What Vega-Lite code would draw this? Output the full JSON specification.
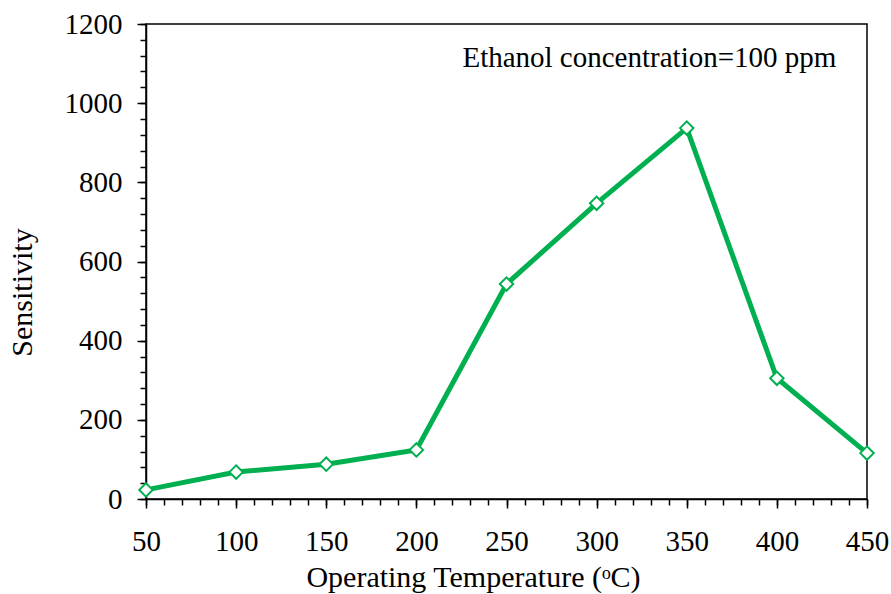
{
  "$schema": "https://vega.github.io/schema/vega-lite/v6.json",
  "width": 721,
  "height": 475,
  "autosize": "none",
  "padding": {"left": 146, "top": 24, "right": 24, "bottom": 95},
  "background": "white",
  "config": {
    "view": {"stroke": "black", "strokeWidth": 1.5},
    "font": "Liberation Serif",
    "axis": {
      "labelFont": "Liberation Serif",
      "labelFontSize": 29,
      "labelColor": "black",
      "labelFlush": false,
      "labelOverlap": false,
      "format": "d",
      "titleFont": "Liberation Serif",
      "titleFontSize": 30,
      "titleFontWeight": "normal",
      "titleColor": "black",
      "tickColor": "black",
      "domainColor": "black",
      "domainWidth": 1.5,
      "tickWidth": 1.5,
      "grid": false
    }
  },
  "datasets": {
    "sens": [
      {"temp": 50, "sensitivity": 23},
      {"temp": 100, "sensitivity": 68},
      {"temp": 150, "sensitivity": 88},
      {"temp": 200, "sensitivity": 124},
      {"temp": 250, "sensitivity": 543},
      {"temp": 300, "sensitivity": 747},
      {"temp": 350, "sensitivity": 937},
      {"temp": 400, "sensitivity": 305},
      {"temp": 450, "sensitivity": 116}
    ],
    "note": [{"temp": 433, "sensitivity": 1114, "label": "Ethanol concentration=100 ppm"}]
  },
  "layer": [
    {
      "data": {"name": "sens"},
      "mark": {"type": "point", "opacity": 0},
      "encoding": {
        "x": {"field": "temp", "type": "quantitative", "scale": {"domain": [50, 450], "nice": false, "zero": false},
          "axis": {"orient": "bottom", "values": [50,60,70,80,90,100,110,120,130,140,150,160,170,180,190,200,210,220,230,240,250,260,270,280,290,300,310,320,330,340,350,360,370,380,390,400,410,420,430,440,450], "labels": false, "domain": false, "tickSize": 6, "title": null}},
        "y": {"field": "sensitivity", "type": "quantitative", "scale": {"domain": [0, 1200], "nice": false},
          "axis": {"orient": "left", "values": [0,40,80,120,160,200,240,280,320,360,400,440,480,520,560,600,640,680,720,760,800,840,880,920,960,1000,1040,1080,1120,1160,1200], "labels": false, "domain": false, "tickSize": 6, "title": null}}
      }
    },
    {
      "data": {"name": "sens"},
      "mark": {"type": "line", "color": "#00B050", "strokeWidth": 5},
      "encoding": {
        "x": {"field": "temp", "type": "quantitative",
          "axis": {"orient": "bottom", "values": [50,100,150,200,250,300,350,400,450], "tickSize": 9, "labelPadding": 19, "title": "Operating Temperature (ᵒC)", "titlePadding": 6, "titleX": 327}},
        "y": {"field": "sensitivity", "type": "quantitative",
          "axis": {"orient": "left", "values": [0,200,400,600,800,1000,1200], "tickSize": 9, "labelPadding": 15, "title": "Sensitivity", "titlePadding": 27, "titleY": 268}}
      }
    },
    {
      "data": {"name": "sens"},
      "mark": {"type": "point", "shape": "diamond", "filled": true, "fill": "white", "stroke": "#00B050", "strokeWidth": 2, "size": 180, "opacity": 1},
      "encoding": {
        "x": {"field": "temp", "type": "quantitative", "axis": null},
        "y": {"field": "sensitivity", "type": "quantitative", "axis": null}
      }
    },
    {
      "data": {"name": "note"},
      "mark": {"type": "text", "align": "right", "baseline": "middle", "fontSize": 29, "font": "Liberation Serif", "color": "black"},
      "encoding": {
        "x": {"field": "temp", "type": "quantitative", "axis": null},
        "y": {"field": "sensitivity", "type": "quantitative", "axis": null},
        "text": {"field": "label"}
      }
    }
  ],
  "resolve": {"axis": {"x": "independent", "y": "independent"}}
}
